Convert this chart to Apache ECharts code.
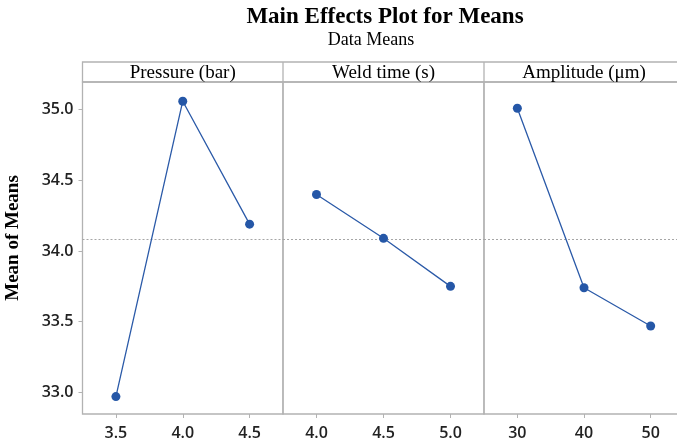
<!DOCTYPE html>
<html>
<head>
<meta charset="utf-8">
<script src="https://cdn.jsdelivr.net/npm/echarts@6/dist/echarts.min.js"></script>
<style>html,body{margin:0;padding:0;background:#fff}#c{width:677px;height:442px}</style>
</head>
<body>
<div id="c"></div>
<script>
// ---- data ----
const panelNames = ['Pressure (bar)', 'Weld time (s)', 'Amplitude (\u03bcm)'];
const pressureLevels = [3.5, 4.0, 4.5];
const pressureMeans = [32.97, 35.06, 34.19];
const weldLevels = [4.0, 4.5, 5.0];
const weldMeans = [34.40, 34.09, 33.75];
const ampLevels = [30, 40, 50];
const ampMeans = [35.01, 33.74, 33.47];
const yTicks = [33.0, 33.5, 34.0, 34.5, 35.0];
const yMin = 32.847, yMax = 35.196;
const titleText = 'Main Effects Plot for Means';
const subtitleText = 'Data Means';
const yName = 'Mean of Means';

const levels = [pressureLevels, weldLevels, ampLevels];
const means = [pressureMeans, weldMeans, ampMeans];
const decimals = [1, 1, 0];
const allMeans = [].concat(pressureMeans, weldMeans, ampMeans);
const grandMean = allMeans.reduce((a, b) => a + b, 0) / allMeans.length;

// ---- layout ----
const gridTop = 82, gridBottom = 414, headerTop = 62;
const lefts = [82.5, 283, 484];
const widths = [200.5, 201, 200];
const borderColor = '#b2b2b2';
const lineColor = '#2b5aa8';
const sansFont = '"Open Sans", sans-serif';
const serifFont = '"Liberation Serif", "Times New Roman", serif';

const chart = echarts.init(document.getElementById('c'));

const grids = [], xAxes = [], yAxes = [], series = [];
for (let i = 0; i < 3; i++) {
  const lv = levels[i];
  const step = lv[1] - lv[0];
  grids.push({
    left: lefts[i], top: gridTop, width: widths[i], height: gridBottom - gridTop,
    outerBoundsMode: 'none', containLabel: false,
    show: true, borderColor: borderColor, borderWidth: 1.3, backgroundColor: 'transparent'
  });
  xAxes.push({
    type: 'value', gridIndex: i,
    min: lv[0] - step / 2, max: lv[lv.length - 1] + step / 2,
    axisLine: { show: false },
    splitLine: { show: false },
    axisTick: { show: true, customValues: lv, length: 4, lineStyle: { color: borderColor } },
    axisLabel: {
      customValues: lv, margin: 11,
      formatter: (v => (val => val.toFixed(decimals[v])))(i),
      color: '#222', fontFamily: sansFont, fontWeight: 600, fontSize: 16
    }
  });
  yAxes.push({
    type: 'value', gridIndex: i, min: yMin, max: yMax,
    axisLine: { show: false },
    splitLine: { show: false },
    axisTick: { show: i === 0, customValues: yTicks, length: 4, lineStyle: { color: borderColor } },
    axisLabel: {
      show: i === 0, customValues: yTicks, margin: 9,
      formatter: val => val.toFixed(1),
      color: '#222', fontFamily: sansFont, fontWeight: 600, fontSize: 16
    }
  });
  series.push({
    type: 'line', xAxisIndex: i, yAxisIndex: i,
    data: lv.map((x, k) => [x, means[i][k]]),
    symbol: 'circle', symbolSize: 9,
    lineStyle: { color: lineColor, width: 1.3 },
    itemStyle: { color: '#2557a7' },
    z: 3,
    markLine: {
      silent: true, symbol: 'none', label: { show: false },
      lineStyle: { color: '#a6a6a6', type: [2, 2], width: 1 },
      data: [{ yAxis: grandMean }],
      z: 1
    }
  });
}

const graphics = [
  { type: 'text', x: 385, y: 6, style: { text: titleText, font: 'bold 23px ' + serifFont, fill: '#000', textAlign: 'center', textVerticalAlign: 'top' } },
  { type: 'text', x: 371, y: 31, style: { text: subtitleText, font: '18px ' + serifFont, fill: '#000', textAlign: 'center', textVerticalAlign: 'top' } },
  { type: 'rect', shape: { x: lefts[0], y: headerTop, width: 700 - lefts[0], height: gridTop - headerTop }, style: { fill: 'none', stroke: borderColor, lineWidth: 1.3 } },
  { type: 'text', x: 13, y: 238, rotation: Math.PI / 2, style: { text: yName, font: 'bold 19px ' + serifFont, fill: '#000', textAlign: 'center', textVerticalAlign: 'middle' } }
];
for (let i = 0; i < 3; i++) {
  if (i > 0) graphics.push({ type: 'line', shape: { x1: lefts[i], y1: headerTop, x2: lefts[i], y2: gridTop }, style: { stroke: borderColor, lineWidth: 1.3 } });
  graphics.push({ type: 'text', x: lefts[i] + widths[i] / 2, y: (headerTop + gridTop) / 2 + 1, style: { text: panelNames[i], font: '19px ' + serifFont, fill: '#000', textAlign: 'center', textVerticalAlign: 'middle' } });
}

chart.setOption({
  animation: false,
  backgroundColor: '#fff',
  grid: grids, xAxis: xAxes, yAxis: yAxes, series: series,
  graphic: graphics
});
</script>
</body>
</html>
